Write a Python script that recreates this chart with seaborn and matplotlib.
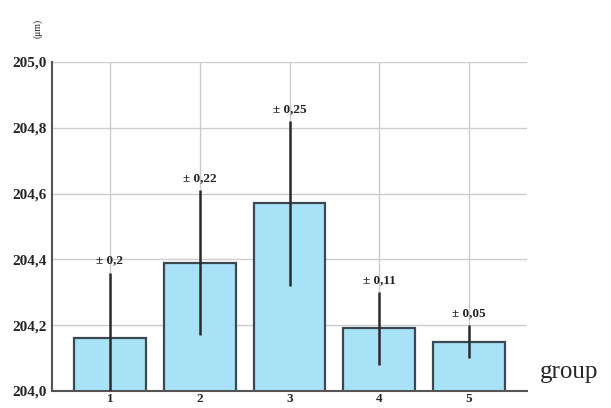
import matplotlib
matplotlib.use("Agg")
import matplotlib.pyplot as plt
import seaborn as sns
import pandas as pd
import numpy as np

groups = ["1", "2", "3", "4", "5"]
means = [204.16, 204.39, 204.57, 204.19, 204.15]
errors = [0.20, 0.22, 0.25, 0.11, 0.05]
err_labels = ["± 0,2", "± 0,22", "± 0,25", "± 0,11", "± 0,05"]
yticks = [204.0, 204.2, 204.4, 204.6, 204.8, 205.0]
ytick_labels = ["204,0", "204,2", "204,4", "204,6", "204,8", "205,0"]

sns.set_style("white")
plt.rcParams['font.family'] = ['Liberation Serif', 'DejaVu Serif']

df = pd.DataFrame({"group": groups, "value": means})

fig = plt.figure(figsize=(6.11, 4.08), dpi=100)
ax = fig.add_axes([52/611, 1-391/408, (527-52)/611, (391-62)/408])

sns.barplot(data=df, x="group", y="value", ax=ax, color="#a8e2f7",
            edgecolor="#3b4852", linewidth=1.6, width=0.8, saturation=1)

ax.set_ylim(204.0, 205.0)
ax.set_xlim(-0.644, 4.644)

x = np.arange(len(groups))
lo = [m - e for m, e in zip(means, errors)]
hi = [m + e for m, e in zip(means, errors)]
ax.vlines(x, lo, hi, color="#2b2b2b", linewidth=1.8, zorder=5)
for xi, h, lab in zip(x, hi, err_labels):
    ax.text(xi, h + 0.018, lab, ha="center", va="bottom", fontsize=9.5,
            fontweight="bold", color="#222222")

ax.set_yticks(yticks)
ax.set_yticklabels(ytick_labels, fontsize=11, fontweight="bold")
ax.set_xticks(x)
ax.set_xticklabels(groups, fontsize=9.5, fontweight="bold")
ax.tick_params(axis="y", length=0, pad=4)
ax.tick_params(axis="x", length=0, pad=1.5)
ax.set_xlabel("")
ax.set_ylabel("")

ax.grid(True, color="#cccccc", linewidth=1.0)
ax.set_axisbelow(True)
for s in ["top", "right"]:
    ax.spines[s].set_visible(False)
for s in ["left", "bottom"]:
    ax.spines[s].set_color("#555555")
    ax.spines[s].set_linewidth(1.5)

fig.text(38/611, 1-28/408, "(μm)", rotation=90, ha="center", va="center", fontsize=7)
fig.text(540/611, 1-372/408, "group", ha="left", va="center", fontsize=18)

fig.savefig("out.png", dpi=100)
